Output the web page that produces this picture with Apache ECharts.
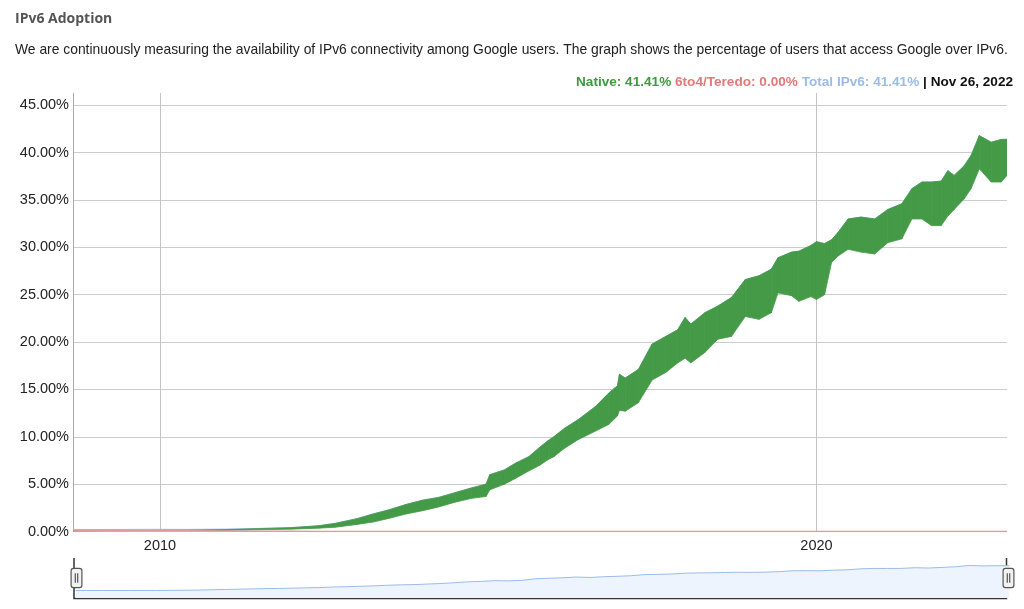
<!DOCTYPE html>
<html><head><meta charset="utf-8">
<script src="https://cdn.jsdelivr.net/npm/echarts@6/dist/echarts.min.js"></script>
<style>html,body{margin:0;padding:0;background:#fff}#c{width:1024px;height:609px}</style>
</head><body><div id="c"></div>
<script>
const dates = ['2008-09-04','2009-01-01','2009-06-01','2010-01-01','2010-06-01','2011-01-01','2011-06-01','2012-01-01','2012-06-01','2012-09-01',
'2013-01-01','2013-04-01','2013-07-01','2013-10-01','2014-01-01','2014-04-01','2014-07-01','2014-10-01','2014-12-20','2015-01-10',
'2015-04-01','2015-06-01','2015-08-15','2015-10-15','2015-12-01','2016-01-01','2016-03-01','2016-05-15','2016-08-20','2016-11-01',
'2016-12-20','2016-12-31','2017-02-01','2017-04-15','2017-07-01','2017-09-15','2017-11-20','2017-12-31','2018-02-01','2018-04-20',
'2018-07-01','2018-09-15','2018-12-01','2019-02-15','2019-04-25','2019-06-01','2019-08-15','2019-09-25','2019-12-01','2020-01-01',
'2020-02-15','2020-03-25','2020-05-01','2020-06-25','2020-09-05','2020-11-20','2021-02-01','2021-04-20','2021-06-15','2021-08-10',
'2021-10-01','2021-11-25','2022-01-01','2022-02-05','2022-04-01','2022-05-10','2022-06-25','2022-08-30','2022-10-25','2022-11-26'];
const nativeLow = [0.03,0.04,0.05,0.06,0.08,0.12,0.18,0.25,0.35,0.45,
0.75,1.00,1.40,1.85,2.20,2.60,3.10,3.50,3.70,4.40,
5.00,5.60,6.40,7.00,7.60,7.90,8.80,9.70,10.60,11.30,
12.20,12.80,12.70,13.60,16.00,16.80,17.80,18.30,17.80,18.90,
20.30,20.60,22.70,22.40,23.10,25.20,24.90,24.30,24.80,24.50,
25.00,28.40,29.10,29.80,29.50,29.30,30.50,30.90,33.00,33.00,
32.30,32.30,33.30,34.00,35.10,36.20,38.30,36.90,36.90,37.60];
const nativeHigh = [0.08,0.09,0.10,0.12,0.14,0.20,0.28,0.40,0.60,0.85,
1.35,1.85,2.30,2.85,3.30,3.60,4.10,4.60,5.00,6.00,
6.50,7.20,7.90,8.90,9.60,10.00,10.90,11.80,13.20,14.60,
15.40,16.60,16.20,17.10,19.80,20.60,21.30,22.60,21.90,23.10,
23.80,24.70,26.60,27.00,27.70,28.90,29.50,29.60,30.20,30.60,
30.40,30.80,31.60,33.00,33.20,33.00,34.00,34.60,36.20,36.90,
36.90,37.00,38.10,37.60,38.60,39.70,41.80,41.10,41.40,41.41];
const teredo = [0.12,0.12,0.12,0.11,0.08,0.05,0.03,0.02,0.01,0.01,
0.01,0.01,0.01,0.01,0.01,0.01,0.01,0.01,0.01,0.01,
0.01,0.01,0.01,0.01,0.01,0.01,0.01,0.01,0.01,0.01,
0,0,0,0,0,0,0,0,0,0,
0,0,0,0,0,0,0,0,0,0,
0,0,0,0,0,0,0,0,0,0,
0,0,0,0,0,0,0,0,0,0];
const yTicks = [0,5,10,15,20,25,30,35,40,45];
const xTickDates = ['2010-01-01','2020-01-01'];

const titleText = 'IPv6 Adoption';
const descText = 'We are continuously measuring the availability of IPv6 connectivity among Google users. The graph shows the percentage of users that access Google over IPv6.';

const ts = d => Date.UTC(+d.slice(0, 4), +d.slice(5, 7) - 1, +d.slice(8, 10));
const last = dates.length - 1;
const totalIPv6 = nativeHigh.map((v, i) => +(v + teredo[i]).toFixed(2));
const pair = arr => dates.map((d, i) => [ts(d), arr[i]]);
const bandData = dates.map((d, i) => [ts(d), nativeLow[i], nativeHigh[i]]);
const monthNames = ['Jan','Feb','Mar','Apr','May','Jun','Jul','Aug','Sep','Oct','Nov','Dec'];
const ld = new Date(ts(dates[last]));
const dateLabel = monthNames[ld.getUTCMonth()] + ' ' + ld.getUTCDate() + ', ' + ld.getUTCFullYear();
const f2 = v => v.toFixed(2);
const xTicks = xTickDates.map(ts);

const GREEN = '#449a46', RED = '#e07a7a', BLUE = '#9bbbea';
const FONT = "'Liberation Sans', Arial, sans-serif";
const LEG = 13.6;

function renderBand(params, api) {
  const i = params.dataIndexInside;
  if (i >= params.dataInsideLength - 1) return null;
  const a0 = api.coord([api.value(0, i), api.value(1, i)]);
  const a1 = api.coord([api.value(0, i + 1), api.value(1, i + 1)]);
  const b1 = api.coord([api.value(0, i + 1), api.value(2, i + 1)]);
  const b0 = api.coord([api.value(0, i), api.value(2, i)]);
  return {
    type: 'polygon',
    shape: {points: [a0, a1, b1, b0]},
    style: {fill: GREEN, stroke: GREEN, lineWidth: 0.8}
  };
}

const chart = echarts.init(document.getElementById('c'), null, {renderer: 'canvas'});
chart.setOption({
  animation: false,
  backgroundColor: '#ffffff',
  title: [
    {text: titleText, left: 15, top: 12, padding: 0,
     textStyle: {fontFamily: "'Open Sans', sans-serif", fontWeight: 'bold', fontSize: 14, color: '#555'}},
    {text: descText, left: 15, top: 43, padding: 0,
     textStyle: {fontFamily: FONT, fontWeight: 'normal', fontSize: 13.86, color: '#222'}},
    {text: '{g|Native: ' + f2(nativeHigh[last]) + '%} {r|6to4/Teredo: ' + f2(teredo[last]) + '%} {b|Total IPv6: ' + f2(totalIPv6[last]) + '%} {k|| ' + dateLabel + '}',
     right: 11, top: 75, padding: 0,
     textStyle: {fontFamily: FONT, fontWeight: 'bold', fontSize: LEG,
       rich: {
         g: {color: '#3f9a3f', fontWeight: 'bold', fontSize: LEG, fontFamily: FONT},
         r: {color: RED, fontWeight: 'bold', fontSize: LEG, fontFamily: FONT},
         b: {color: BLUE, fontWeight: 'bold', fontSize: LEG, fontFamily: FONT},
         k: {color: '#111', fontWeight: 'bold', fontSize: LEG, fontFamily: FONT}
       }}}
  ],
  grid: {left: 73, right: 17, top: 93, bottom: 77.5},
  xAxis: {
    type: 'value', min: ts(dates[0]), max: ts(dates[last]),
    axisLine: {show: false},
    axisTick: {show: false, customValues: xTicks},
    axisLabel: {customValues: xTicks, formatter: v => String(new Date(v).getUTCFullYear()),
      color: '#222', fontSize: 14.5, fontFamily: FONT, margin: 7},
    splitLine: {show: true, lineStyle: {color: '#c4c4c4', width: 1}}
  },
  yAxis: {
    type: 'value', min: 0, max: 46.3,
    axisLine: {show: true, lineStyle: {color: '#a8a8a8', width: 1}},
    axisTick: {show: false, customValues: yTicks},
    axisLabel: {customValues: yTicks, formatter: v => f2(v) + '%', color: '#222', fontSize: 14.5, fontFamily: FONT, margin: 4},
    splitLine: {show: true, lineStyle: {color: '#cccccc', width: 1}}
  },
  dataZoom: [{
    type: 'slider', xAxisIndex: 0, left: 73, right: 17, top: 558, height: 40,
    start: 0, end: 100, showDetail: false, brushSelect: false, realtime: false,
    filterMode: 'none',
    backgroundColor: 'rgba(0,0,0,0)', borderColor: 'rgba(0,0,0,0)', fillerColor: 'rgba(0,0,0,0)',
    showDataShadow: true,
    dataBackground: {lineStyle: {color: BLUE, width: 1, opacity: 1}, areaStyle: {color: '#eef4fd', opacity: 1}},
    selectedDataBackground: {lineStyle: {color: BLUE, width: 1, opacity: 1}, areaStyle: {color: '#eef4fd', opacity: 1}},
    handleIcon: 'path://M2,0 L7,0 Q9,0 9,2 L9,14 Q9,16 7,16 L2,16 Q0,16 0,14 L0,2 Q0,0 2,0 Z M3.5,4 L3.5,12 M5.5,4 L5.5,12',
    handleSize: '48%',
    handleStyle: {color: '#f2f2f2', borderColor: '#555', borderWidth: 1.2},
    moveHandleSize: 0,
    moveHandleStyle: {opacity: 0},
    emphasis: {handleStyle: {color: '#f2f2f2', borderColor: '#555'}, moveHandleStyle: {opacity: 0}}
  }],
  graphic: [{
    type: 'polyline', z: 1,
    shape: {points: [[74, 558], [74, 598.5], [1006.5, 598.5], [1006.5, 558]]},
    style: {stroke: '#333', lineWidth: 1.5, fill: null}
  }],
  series: [
    {name: 'Total IPv6', type: 'line', data: pair(totalIPv6), symbol: 'none', showSymbol: false,
     lineStyle: {color: BLUE, width: 1}, z: 1},
    {name: 'Native', type: 'custom', data: bandData, encode: {x: 0, y: [1, 2]},
     renderItem: renderBand, clip: true, z: 3},
    {name: '6to4/Teredo', type: 'line', data: pair(teredo), symbol: 'none', showSymbol: false,
     lineStyle: {color: '#e09a9a', width: 1.5}, z: 4}
  ]
});
</script></body></html>
